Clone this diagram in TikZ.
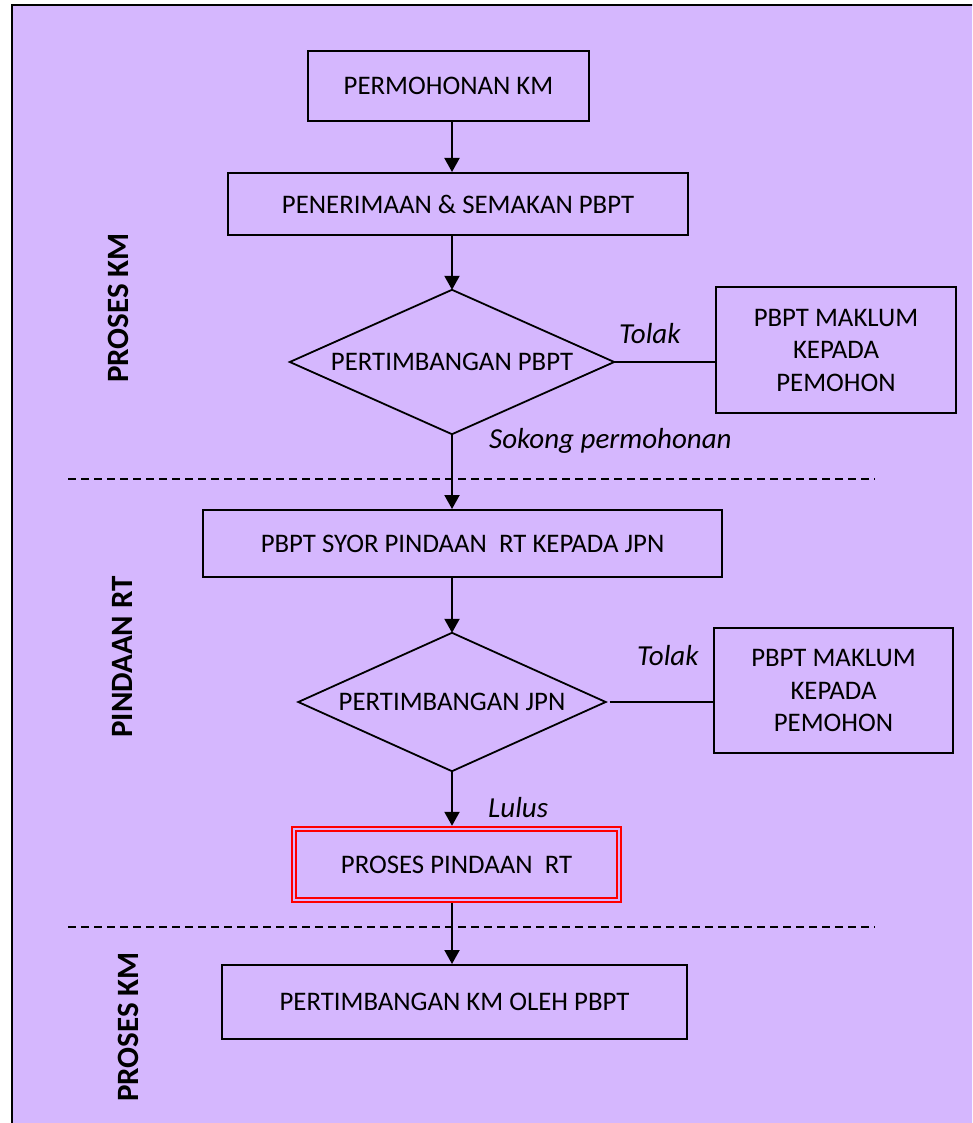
\documentclass[tikz,border=0pt]{standalone}
\usepackage{fontspec}
\setmainfont{Carlito}
\usetikzlibrary{shapes.geometric,arrows.meta}
\definecolor{bgpurple}{RGB}{213,183,254}
\definecolor{boxred}{RGB}{255,0,0}
\begin{document}
\begin{tikzpicture}[x=1pt,y=-1pt,
  box/.style={draw=black, line width=2pt, fill=bgpurple, inner sep=0pt, align=center,
              font=\fontsize{26.8}{32.5}\selectfont},
  decholder/.style={rectangle, draw=none, inner sep=0pt,
              font=\fontsize{26.8}{32.5}\selectfont},
  decline/.style={draw=black, line width=1.8pt, line join=miter},
  redbox/.style={draw=boxred, line width=2.4pt, fill=bgpurple, inner sep=0pt,
              font=\fontsize{26.8}{32.5}\selectfont},
  flow/.style={line width=2pt, -{Triangle[length=14pt,width=15pt]}},
  plain/.style={line width=1.8pt},
  lbl/.style={font=\fontsize{29}{33}\selectfont\itshape, inner sep=0pt, anchor=base west},
  side/.style={font=\fontsize{31}{36}\selectfont\bfseries, rotate=90, inner sep=0pt},
  sepline/.style={line width=1.3pt, dash pattern=on 8pt off 5pt}
]
\useasboundingbox (0,0) rectangle (972,1123);
\fill[white] (0,0) rectangle (972,1123);
\clip (0,0) rectangle (972,1123);
\filldraw[fill=bgpurple, draw=black, line width=1.5pt] (12,5) rectangle (995,1145);

\coordinate (ax) at (452,0);

% nodes
\node[box, minimum width=281pt, minimum height=70pt] (b1) at (448.5,86) {PERMOHONAN KM};
\node[box, minimum width=460pt, minimum height=62pt] (b2) at (458,204) {PENERIMAAN \& SEMAKAN PBPT};
\node[decholder, minimum width=324pt, minimum height=144pt] (d1) at (452,362) {PERTIMBANGAN PBPT};
\draw[decline] (d1.north) -- (d1.east) -- (d1.south) -- (d1.west) -- cycle;
\node[box, minimum width=240pt, minimum height=126pt] (m1) at (836,350) {PBPT MAKLUM\\KEPADA\\PEMOHON};
\node[box, minimum width=519pt, minimum height=67pt] (b3) at (462.5,543.5) {PBPT SYOR PINDAAN\ \ RT KEPADA JPN};
\node[decholder, minimum width=307pt, minimum height=138pt] (d2) at (452,702) {PERTIMBANGAN JPN};
\draw[decline] (d2.north) -- (d2.east) -- (d2.south) -- (d2.west) -- cycle;
\node[box, minimum width=239pt, minimum height=125pt] (m2) at (833.5,690.5) {PBPT MAKLUM\\KEPADA\\PEMOHON};
\node[redbox, minimum width=329pt, minimum height=75pt] (rb) at (456.5,864.5) {PROSES PINDAAN\ \ RT};
\draw[boxred, line width=2.2pt] ([shift={(5.5,5.5)}]rb.north west) rectangle ([shift={(-5.5,-5.5)}]rb.south east);
\node[box, minimum width=465pt, minimum height=74pt] (b5) at (454.5,1002) {PERTIMBANGAN KM OLEH PBPT};

% labels
\node[lbl] (t1) at (619,343) {Tolak};
\node[lbl] (t2) at (637,665) {Tolak};
\node[lbl] (sk) at (489,448) {Sokong permohonan};
\node[lbl] (ll) at (488,817) {Lulus};

\node[side] (s1) at (118,308) {PROSES KM};
\node[side] (s2) at (122,657) {PINDAAN RT};
\node[side] (s3) at (128,1027) {PROSES KM};

% separators
\coordinate (sepAa) at (68,479);
\coordinate (sepAb) at (875,479);
\coordinate (sepBa) at (68,927);
\coordinate (sepBb) at (875,927);
\draw[sepline] (sepAa) -- (sepAb);
\draw[sepline] (sepBa) -- (sepBb);

% connectors
\draw[flow] (b1.south -| ax) -- (b2.north -| ax);
\draw[flow] (b2.south -| ax) -- (d1.north);
\draw[flow] (d1.south) -- (d1.south |- b3.north);
\draw[flow] (b3.south -| ax) -- (d2.north);
\draw[flow] (d2.south) -- (d2.south |- rb.north);
\draw[flow] (rb.south -| ax) -- (b5.north -| ax);
\draw[plain] (d1.east) -- (d1.east -| m1.west);
\draw[plain, shorten <=4pt] (d2.east) -- (d2.east -| m2.west);
\end{tikzpicture}
\end{document}
